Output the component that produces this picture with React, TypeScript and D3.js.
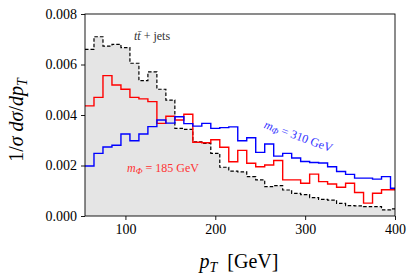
import React, { useRef, useEffect } from 'react';
import * as d3 from 'd3';

// lower edges of the 10 GeV bins
const binLow = [55, 65, 75, 85, 95, 105, 115, 125, 135, 145, 155, 165, 175, 185, 195, 205, 215, 225, 235, 245,
  255, 265, 275, 285, 295, 305, 315, 325, 335, 345, 355, 365, 375, 385, 395];
const binHigh = 405;

const ttbar = [0.0066, 0.0071, 0.00673, 0.0068, 0.00667, 0.00605, 0.00536, 0.00571, 0.00502, 0.00459,
  0.00347, 0.00343, 0.00294, 0.00288, 0.00248, 0.00193, 0.00178, 0.00175, 0.00156, 0.00143,
  0.00116, 0.0012, 0.00103, 0.0009, 0.00085, 0.00073, 0.00066, 0.00063, 0.0005, 0.00041,
  0.0004, 0.00037, 0.00037, 0.00024, 0.00028];

const m185 = [0.00436, 0.0047, 0.00556, 0.00519, 0.00502, 0.0047, 0.00464, 0.00453, 0.00367, 0.00395,
  0.0038, 0.00403, 0.00292, 0.0029, 0.00302, 0.00272, 0.00215, 0.0026, 0.00209, 0.00195,
  0.00202, 0.0022, 0.00143, 0.00143, 0.0013, 0.00166, 0.00136, 0.00127, 0.00114, 0.0013,
  0.00093, 0.00051, 0.0009, 0.00104, 0.00104];

const m310 = [0.00198, 0.00248, 0.00273, 0.0028, 0.00325, 0.00298, 0.00325, 0.00354, 0.0038, 0.00368,
  0.00393, 0.00366, 0.00356, 0.00367, 0.00347, 0.0035, 0.00353, 0.00298, 0.0031, 0.00252,
  0.00285, 0.00237, 0.00248, 0.0023, 0.00216, 0.00212, 0.0021, 0.00195, 0.00176, 0.00165,
  0.0015, 0.0015, 0.00146, 0.00156, 0.0011];

const xTicks = [100, 200, 300, 400];
const yTicks = [0, 0.002, 0.004, 0.006, 0.008];

const W = 415;
const H = 280;
const margin = { top: 14, right: 20, bottom: 64, left: 85 };
const font = "'Liberation Serif', 'DejaVu Serif', serif";

const App: React.FC = () => {
  const svgRef = useRef<SVGSVGElement>(null);

  useEffect(() => {
    const svg = d3.select(svgRef.current);
    svg.selectAll('*').remove();

    const x = d3.scaleLinear().domain([55, 400]).range([margin.left, W - margin.right]);
    const y = d3.scaleLinear().domain([0, 0.008]).range([H - margin.bottom, margin.top]);

    svg.append('defs').append('clipPath').attr('id', 'plot')
      .append('rect')
      .attr('x', x(55)).attr('y', y(0.008))
      .attr('width', x(400) - x(55)).attr('height', y(0) - y(0.008));

    const pts = (vals: number[]) => {
      const p: [number, number][] = binLow.map((b, i) => [b, vals[i]]);
      p.push([binHigh, vals[vals.length - 1]]);
      return p;
    };

    const line = d3.line<[number, number]>()
      .x(d => x(d[0])).y(d => y(d[1]))
      .curve(d3.curveStepAfter);
    const area = d3.area<[number, number]>()
      .x(d => x(d[0])).y0(y(0)).y1(d => y(d[1]))
      .curve(d3.curveStepAfter);

    const g = svg.append('g').attr('clip-path', 'url(#plot)');

    g.append('path').attr('d', area(pts(ttbar))!).attr('fill', '#e5e5e5');
    g.append('path').attr('d', line(pts(ttbar))!)
      .attr('fill', 'none').attr('stroke', '#000').attr('stroke-width', 1.2)
      .attr('stroke-dasharray', '3.5,2');
    g.append('path').attr('d', line(pts(m185))!)
      .attr('fill', 'none').attr('stroke', '#ff0000').attr('stroke-width', 1.4);
    g.append('path').attr('d', line(pts(m310))!)
      .attr('fill', 'none').attr('stroke', '#0000ff').attr('stroke-width', 1.4);

    // frame
    svg.append('rect')
      .attr('x', x(55)).attr('y', y(0.008))
      .attr('width', x(400) - x(55)).attr('height', y(0) - y(0.008))
      .attr('fill', 'none').attr('stroke', '#000').attr('stroke-width', 0.9);

    const xAxis = svg.append('g')
      .attr('transform', `translate(0,${y(0)})`)
      .call(d3.axisBottom(x).tickValues(xTicks).tickSize(4).tickPadding(4).tickFormat(d3.format('d')));
    const yAxis = svg.append('g')
      .attr('transform', `translate(${x(55)},0)`)
      .call(d3.axisLeft(y).tickValues(yTicks).tickSize(4).tickPadding(4).tickFormat(d3.format('.3f')));

    [xAxis, yAxis].forEach(a => {
      a.select('.domain').remove();
      a.selectAll('text').attr('font-family', font).attr('font-size', 14).attr('fill', '#000');
      a.selectAll('line').attr('stroke', '#000').attr('stroke-width', 0.9);
    });

    // axis titles
    const xt = svg.append('text')
      .attr('x', 239).attr('y', 268)
      .attr('text-anchor', 'middle')
      .attr('font-family', font).attr('font-size', 20);
    xt.append('tspan').attr('font-style', 'italic').text('p');
    xt.append('tspan').attr('font-style', 'italic').attr('font-size', 14).attr('dy', 4).text('T');
    xt.append('tspan').attr('dy', -4).text('\u2002[GeV]');

    const yt = svg.append('text')
      .attr('transform', 'translate(23,120) rotate(-90)')
      .attr('text-anchor', 'middle')
      .attr('font-family', font).attr('font-size', 20);
    yt.append('tspan').text('1/');
    yt.append('tspan').attr('font-style', 'italic').text('\u03c3 d\u03c3');
    yt.append('tspan').text('/');
    yt.append('tspan').attr('font-style', 'italic').text('dp');
    yt.append('tspan').attr('font-style', 'italic').attr('font-size', 14).attr('dy', 4).text('T');

    // annotations
    const a1 = svg.append('text')
      .attr('x', 134).attr('y', 40)
      .attr('font-family', font).attr('font-size', 12).attr('fill', '#333');
    a1.append('tspan').attr('font-style', 'italic').text('t');
    a1.append('tspan').attr('font-style', 'italic').text('t\u0304');
    a1.append('tspan').text(' + jets');

    const a2 = svg.append('text')
      .attr('x', 127).attr('y', 172)
      .attr('font-family', font).attr('font-size', 12).attr('fill', '#ff3333');
    a2.append('tspan').attr('font-style', 'italic').text('m');
    a2.append('tspan').attr('font-style', 'italic').attr('font-size', 9).attr('dy', 2).text('\u03a6');
    a2.append('tspan').attr('dy', -2).text(' = 185 GeV');

    const a3 = svg.append('text')
      .attr('transform', 'translate(297,140) rotate(20)')
      .attr('text-anchor', 'middle')
      .attr('font-family', font).attr('font-size', 12).attr('fill', '#3333ff');
    a3.append('tspan').attr('font-style', 'italic').text('m');
    a3.append('tspan').attr('font-style', 'italic').attr('font-size', 9).attr('dy', 2).text('\u03a6');
    a3.append('tspan').attr('dy', -2).text(' = 310 GeV');
  }, []);

  return (
    <svg ref={svgRef} width={W} height={H}
      style={{ position: 'absolute', left: 0, top: 0, background: '#fff' }} />
  );
};

export default App;
